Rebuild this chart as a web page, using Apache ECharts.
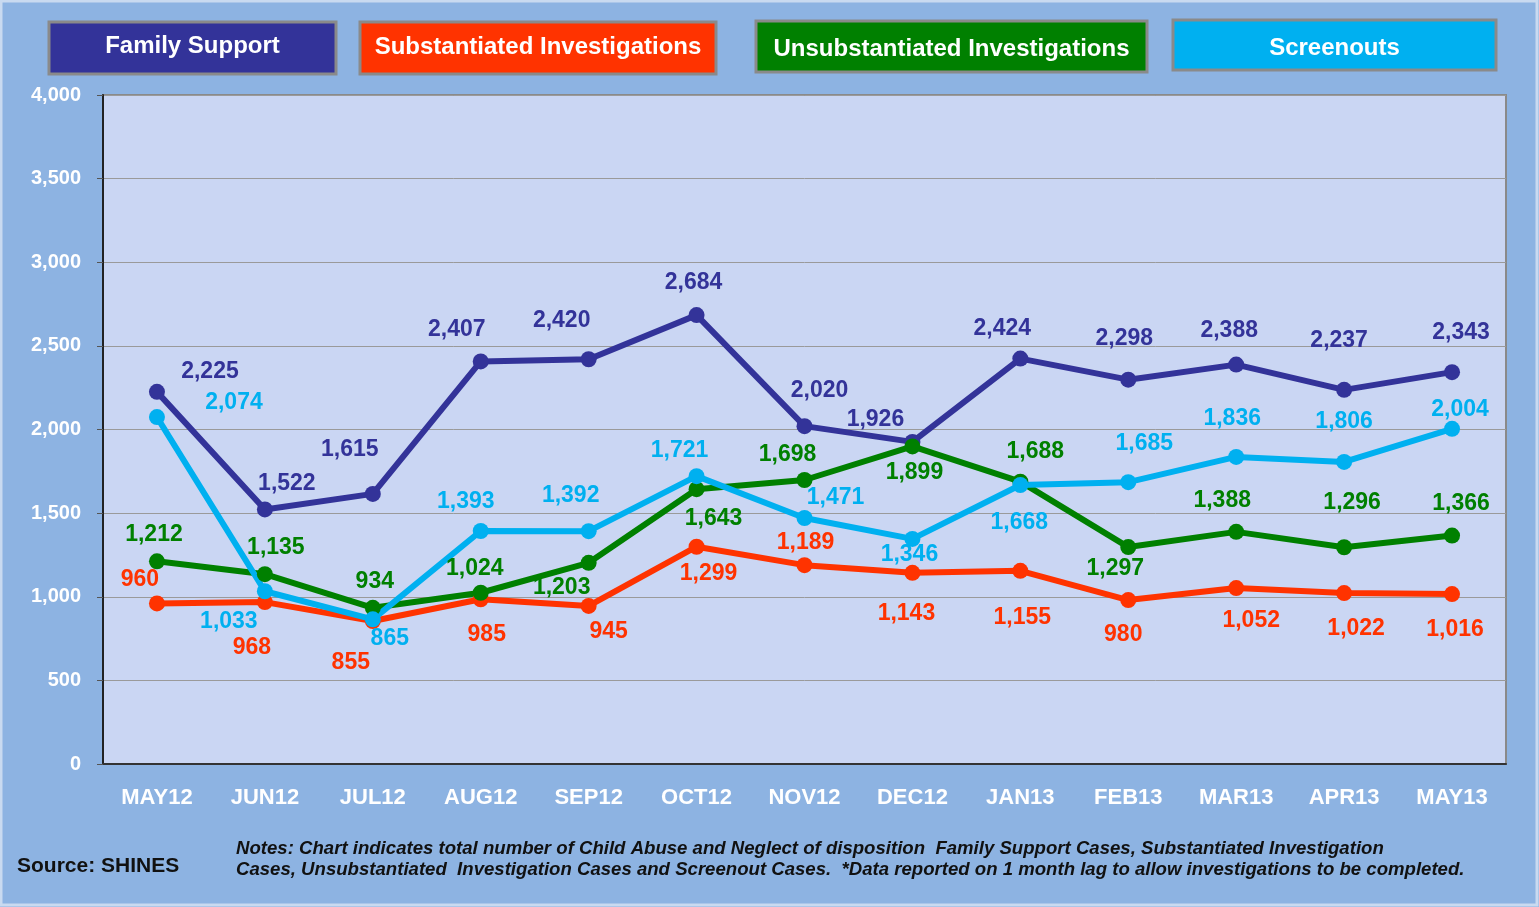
<!DOCTYPE html>
<html>
<head>
<meta charset="utf-8">
<script src="https://cdn.jsdelivr.net/npm/echarts@6/dist/echarts.min.js"></script>
<style>
  html, body { margin: 0; padding: 0; background: #8DB3E2; }
  #chart { width: 1539px; height: 907px; }
</style>
</head>
<body>
<div id="chart"></div>
<script>
const months = ['MAY12', 'JUN12', 'JUL12', 'AUG12', 'SEP12', 'OCT12', 'NOV12',
  'DEC12', 'JAN13', 'FEB13', 'MAR13', 'APR13', 'MAY13']

const familySupport = [2225, 1522, 1615, 2407, 2420, 2684, 2020, 1926, 2424, 2298, 2388, 2237, 2343]
const substantiated = [960, 968, 855, 985, 945, 1299, 1189, 1143, 1155, 980, 1052, 1022, 1016]
const unsubstantiated = [1212, 1135, 934, 1024, 1203, 1643, 1698, 1899, 1688, 1297, 1388, 1296, 1366]
const screenouts = [2074, 1033, 865, 1393, 1392, 1721, 1471, 1346, 1668, 1685, 1836, 1806, 2004]

// where each value label sits relative to its point (px)
const familyOffsets = [[53,-20],[22,-26],[-23,-44],[-24,-32],[-27,-39],[-3,-32],[15,-35],[-37,-22],[-18,-30],[-4,-41],[-7,-34],[-5,-49],[9,-39]]
const substOffsets = [[-17,-24],[-13,46],[-22,42],[6,35],[20,26],[12,27],[1,-22],[-6,41],[2,47],[-5,35],[15,33],[12,36],[3,36]]
const unsubOffsets = [[-3,-27],[11,-27],[2,-26],[-6,-24],[-27,25],[17,29],[-17,-25],[2,26],[15,-30],[-13,22],[-14,-31],[8,-45],[9,-32]]
const screenOffsets = [[77,-14],[-36,30],[17,19],[-15,-29],[-18,-36],[-17,-26],[31,-20],[-3,16],[-1,38],[16,-39],[-4,-38],[0,-40],[8,-19]]

const font = 'Liberation Sans, Arial, sans-serif'
const fmt = (v) => v.toLocaleString('en-US')

function makeSeries(name, values, colour, offsets) {
  return {
    name: name,
    type: 'line',
    symbol: 'circle',
    symbolSize: 16,
    lineStyle: { width: 6, color: colour },
    itemStyle: { color: colour },
    z: 3,
    data: values.map((v, i) => ({
      value: v,
      label: { offset: offsets[i] }
    })),
    label: {
      show: true,
      position: 'inside',
      color: colour,
      fontFamily: font,
      fontWeight: 'bold',
      fontSize: 23,
      formatter: (p) => fmt(p.value)
    }
  }
}

function legendBox(x, y, w, h, colour, text, textY) {
  return {
    type: 'group',
    children: [
      { type: 'rect', shape: { x: x, y: y, width: w, height: h },
        style: { fill: colour, stroke: '#8a8a8a', lineWidth: 3 } },
      { type: 'text', x: x + w / 2, y: textY,
        style: { text: text, fill: '#fff', font: 'bold 24px ' + font,
                 textAlign: 'center', textVerticalAlign: 'middle' } }
    ]
  }
}

const chart = echarts.init(document.getElementById('chart'))

chart.setOption({
  animation: false,
  backgroundColor: '#8DB3E2',
  grid: {
    left: 103, right: 33, top: 95, bottom: 143,
    show: true,
    backgroundColor: '#CAD6F3',
    borderColor: '#8a8a8a',
    borderWidth: 2
  },
  xAxis: {
    type: 'category',
    data: months,
    axisLine: { lineStyle: { color: '#333', width: 2 } },
    axisTick: { length: 8, lineStyle: { color: '#555' } },
    axisLabel: { color: '#fff', fontFamily: font, fontWeight: 'bold', fontSize: 22, margin: 23 }
  },
  yAxis: {
    type: 'value',
    min: 0, max: 4000, interval: 500,
    axisLine: { show: true, lineStyle: { color: '#222', width: 2 } },
    axisTick: { show: true, length: 6, lineStyle: { color: '#555' } },
    splitLine: { lineStyle: { color: '#9a9a9a', width: 1 } },
    axisLabel: { color: '#fff', fontFamily: font, fontWeight: 'bold', fontSize: 20, margin: 22,
      formatter: (v) => fmt(v) }
  },
  series: [
    makeSeries('Family Support', familySupport, '#333399', familyOffsets),
    makeSeries('Substantiated Investigations', substantiated, '#FF3300', substOffsets),
    makeSeries('Unsubstantiated Investigations', unsubstantiated, '#008000', unsubOffsets),
    makeSeries('Screenouts', screenouts, '#00B0F0', screenOffsets)
  ],
  graphic: [
    { type: 'rect', shape: { x: 1, y: 1, width: 1536, height: 904 },
      style: { fill: 'none', stroke: '#C9DAF0', lineWidth: 3 }, silent: true },
    legendBox(49, 22, 287, 52, '#333399', 'Family Support', 46),
    legendBox(360, 22, 356, 52, '#FF3300', 'Substantiated Investigations', 47),
    legendBox(756, 21, 391, 51, '#008000', 'Unsubstantiated Investigations', 49),
    legendBox(1173, 20, 323, 50, '#00B0F0', 'Screenouts', 48),
    { type: 'text', left: 17, top: 856,
      style: { text: 'Source: SHINES', fill: '#111', font: 'bold 21px ' + font } },
    { type: 'text', left: 236, top: 838,
      style: { text: 'Notes: Chart indicates total number of Child Abuse and Neglect of disposition  Family Support Cases, Substantiated Investigation\nCases, Unsubstantiated  Investigation Cases and Screenout Cases.  *Data reported on 1 month lag to allow investigations to be completed.',
        fill: '#111', font: 'italic bold 18.6px ' + font, lineHeight: 21 } }
  ]
})
</script>
</body>
</html>
